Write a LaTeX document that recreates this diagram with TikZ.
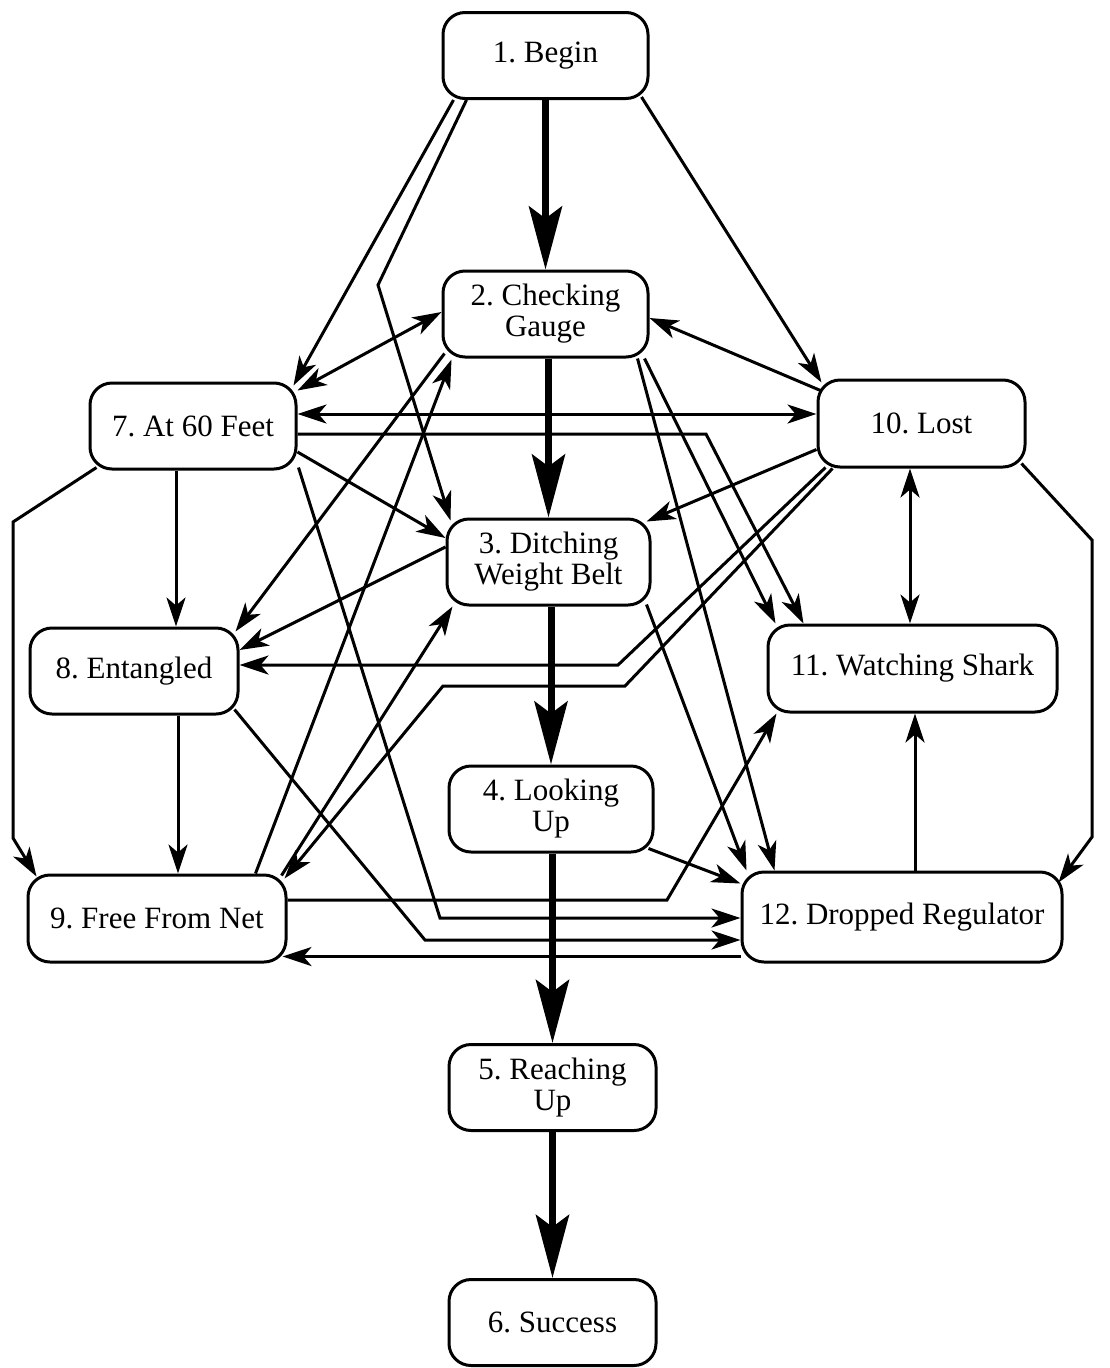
\documentclass[tikz,border=0pt]{standalone}
\usepackage{fontspec}
\setmainfont{Liberation Serif}
\usetikzlibrary{arrows.meta,calc}
\frenchspacing
\begin{document}
\begin{tikzpicture}[x=1pt,y=-1pt,
  state/.style={draw, line width=3pt, rounded corners=22pt, align=center,
    font=\fontsize{31}{31}\selectfont, inner sep=0pt, minimum height=86pt},
  link/.style={line width=3pt, -{Stealth[length=29pt,width=19pt,inset=8pt]}},
  dlink/.style={line width=3pt, {Stealth[length=29pt,width=19pt,inset=8pt]}-{Stealth[length=29pt,width=19pt,inset=8pt]}},
  heavy/.style={line width=7pt, -{Stealth[length=63pt,width=33pt,inset=12pt]}}]
\useasboundingbox (0,0) rectangle (1110,1368);

% states
\node[state, minimum width=205pt] (n1) at (545.5,55.5) {1. Begin};
\node[state, minimum width=205pt] (n2) at (545.5,314) {2. Checking\\Gauge};
\node[state, minimum width=203pt] (n3) at (548.5,562) {3. Ditching\\Weight Belt};
\node[state, minimum width=204pt] (n4) at (551,809) {4. Looking\\Up};
\node[state, minimum width=207pt] (n5) at (552.5,1087.5) {5. Reaching\\Up};
\node[state, minimum width=207pt] (n6) at (552.5,1322.5) {6. Success};
\node[state, minimum width=206pt] (n7) at (193,426) {7. At 60 Feet};
\node[state, minimum width=208pt] (n8) at (134,671) {8. Entangled};
\node[state, minimum width=258pt, minimum height=87pt] (n9) at (157,918.5) {9. Free From Net};
\node[state, minimum width=207pt, minimum height=87pt] (n10) at (921.5,423.5) {10. Lost};
\node[state, minimum width=289pt, minimum height=87pt] (n11) at (912.5,668.5) {11. Watching Shark};
\node[state, minimum width=320pt, minimum height=90pt] (n12) at (902,917) {12. Dropped Regulator};

% bend points
\coordinate (b13) at (378,285);
\coordinate (b711) at (706,434);
\coordinate (b108) at (618,665);
\coordinate (b109a) at (625,686);
\coordinate (b109b) at (443,686);
\coordinate (b1012a) at (1092,540);
\coordinate (b1012b) at (1092,837);
\coordinate (b911) at (667,900);
\coordinate (b712) at (440,918);
\coordinate (b812) at (425,940);
\coordinate (b79a) at (13,522);
\coordinate (b79b) at (13,838);

% main sequence
\draw[heavy] (n1.south) -- (n2.north);
\draw[heavy] (n3.north |- n2.south) -- (n3.north);
\draw[heavy] (n4.north |- n3.south) -- (n4.north);
\draw[heavy] (n5.north |- n4.south) -- (n5.north);
\draw[heavy] (n5.south) -- (n6.north);

% other transitions
\draw[link] ([shift={(12,0)}]n1.south west) -- ([shift={(-4,4)}]n7.north east);
\draw[link] ([shift={(25,0)}]n1.south west) -- (b13) -- ([shift={(5,3)}]n3.north west);
\draw[link] ([shift={(-8,-3)}]n1.south east) -- ([shift={(5,4)}]n10.north west);
\draw[dlink] ([shift={(0,-2)}]n2.west) -- ([shift={(0,9)}]n7.north east);
\draw[link] ([shift={(4,12)}]n10.north west) -- ([shift={(0,4)}]n2.east);
\draw[dlink] ([shift={(0,-12)}]n7.east) -- ([shift={(0,-9.5)}]n10.west);
\draw[link] ([shift={(0,8)}]n7.east) -- (b711) -- ([shift={(37,0)}]n11.north west);
\draw[link] ([shift={(-5,0)}]n2.south east) -- ([shift={(9,0)}]n11.north west);
\draw[link] ([shift={(-12,0)}]n2.south east) -- ([shift={(34,0)}]n12.north west);
\draw[link] ([shift={(-5,-2)}]n3.south east) -- ([shift={(6,0)}]n12.north west);
\draw[link] ([shift={(0,26)}]n10.west) -- ([shift={(-5,4)}]n3.north east);
\draw[link] ([shift={(9,-1)}]n10.south west) -- (b108) -- ([shift={(0,-6)}]n8.east);
\draw[link] ([shift={(16,0)}]n10.south west) -- (b109a) -- (b109b) -- ([shift={(-3,5)}]n9.north east);
\draw[dlink] ([shift={(-11.5,0)}]n10.south) -- ([shift={(-2.5,0)}]n11.north);
\draw[link] ([shift={(-5,-5)}]n10.south east) -- (b1012a) -- (b1012b) -- ([shift={(-5,12)}]n12.north east);
\draw[link] ([shift={(13,0)}]n12.north) -- ([shift={(13,0)}]n12.north |- n11.south);
\draw[link] ([shift={(-6,-5)}]n4.south east) -- ([shift={(0,13)}]n12.north west);
\draw[link] ([shift={(0,-18.5)}]n9.east) -- (b911) -- ([shift={(10,0)}]n11.south west);
\draw[link] ([shift={(1,-3)}]n7.south east) -- (b712) -- ([shift={(0,1)}]n12.west);
\draw[link] ([shift={(-5,-6)}]n8.south east) -- (b812) -- ([shift={(0,23)}]n12.west);
\draw[link] ([shift={(0,-7)}]n12.south west) -- ([shift={(-5,-7)}]n9.south east);
\draw[link] ([shift={(-32,0)}]n9.north east) -- ([shift={(10,1)}]n2.south west);
\draw[link] ([shift={(3,-5)}]n2.south west) -- ([shift={(-4,5)}]n8.north east);
\draw[link] ([shift={(0,-15)}]n3.west) -- ([shift={(0,-21)}]n8.east);
\draw[link] ([shift={(0,26)}]n7.east) -- ([shift={(0,-24)}]n3.west);
\draw[link] ([shift={(-6,2)}]n9.north east) -- ([shift={(7,0)}]n3.south west);
\draw[link] ([shift={(-17,0)}]n7.south) -- ([shift={(42,0)}]n8.north);
\draw[link] ([shift={(44,0)}]n8.south) -- ([shift={(21,0)}]n9.north);
\draw[link] ([shift={(8,-3)}]n7.south west) -- (b79a) -- (b79b) -- ([shift={(10,3)}]n9.north west);
\end{tikzpicture}
\end{document}
